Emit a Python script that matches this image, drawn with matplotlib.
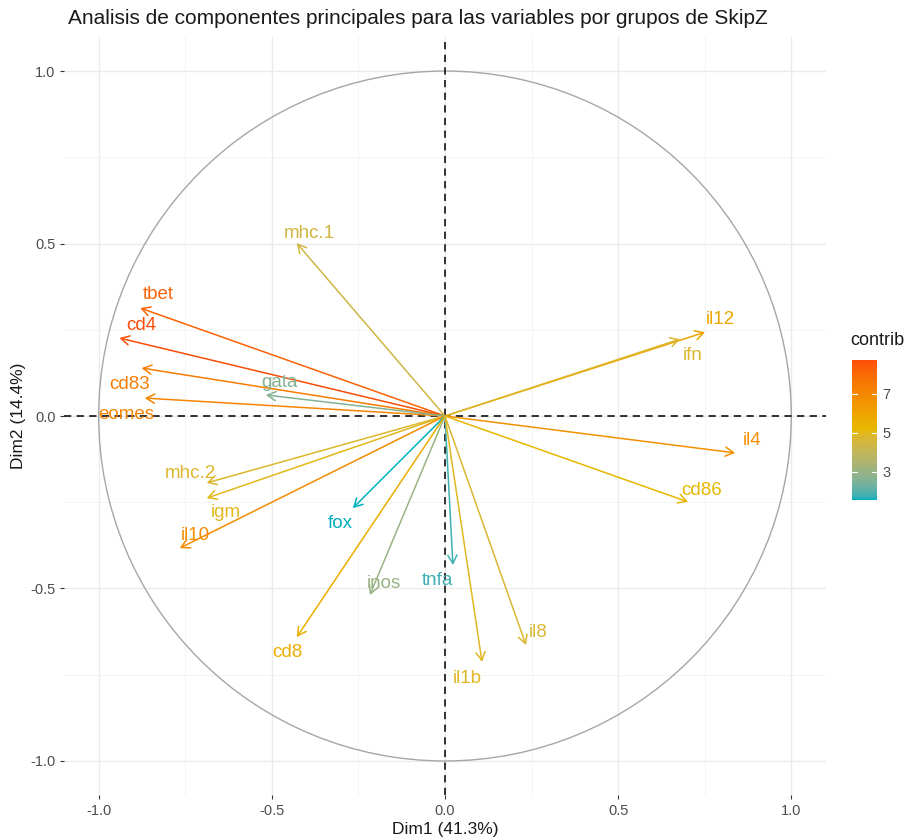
import numpy as np
import matplotlib
matplotlib.use("Agg")
import matplotlib.pyplot as plt
from matplotlib.colors import ListedColormap, Normalize, to_rgb
from matplotlib.patches import Circle

plt.rcParams['font.family'] = ['Liberation Sans', 'DejaVu Sans']

# variable coordinates on Dim1 / Dim2 and their contribution
variables = ['tbet', 'cd4', 'cd83', 'eomes', 'gata', 'mhc.1', 'il12', 'ifn', 'il4',
             'cd86', 'mhc.2', 'igm', 'il10', 'fox', 'inos', 'cd8', 'tnfa', 'il1b', 'il8']
dim1 = [-0.880, -0.940, -0.876, -0.867, -0.517, -0.428, 0.751, 0.679, 0.838,
        0.702, -0.688, -0.688, -0.766, -0.266, -0.217, -0.428, 0.023, 0.107, 0.234]
dim2 = [0.313, 0.226, 0.139, 0.052, 0.061, 0.501, 0.243, 0.223, -0.107,
        -0.249, -0.194, -0.238, -0.383, -0.267, -0.519, -0.641, -0.432, -0.713, -0.664]
contrib = [8.2, 8.75, 7.4, 7.1, 2.6, 4.4, 5.9, 4.8, 6.7,
           5.2, 4.8, 5.0, 6.9, 1.55, 3.0, 5.6, 1.8, 4.9, 4.7]

# label offsets from arrow tip, in points (layout only)
label_offsets = {
    'tbet': (13, 10), 'cd4': (16, 9), 'cd83': (-9, -12), 'eomes': (-13, -12),
    'gata': (10, 9), 'mhc.1': (9, 7), 'il12': (11, 9), 'ifn': (9, -12),
    'il4': (12, 9), 'cd86': (10, 8), 'mhc.2': (-12, 7), 'igm': (14, -10),
    'il10': (11, 9), 'fox': (-9, -11), 'inos': (10, 8), 'cd8': (-7, -11),
    'tnfa': (-11, -11), 'il1b': (-11, -12), 'il8': (9, 9),
}
gradient_cols = ['#00AFBB', '#E7B800', '#FC4E07']


# ggplot interpolates gradients in Lab space
def to_lab(rgb):
    c = np.array(rgb)
    c = np.where(c > 0.04045, ((c + 0.055) / 1.055) ** 2.4, c / 12.92)
    m = np.array([[0.4124, 0.3576, 0.1805], [0.2126, 0.7152, 0.0722], [0.0193, 0.1192, 0.9505]])
    xyz = m @ c / np.array([0.95047, 1.0, 1.08883])
    f = np.where(xyz > 0.008856, np.cbrt(xyz), 7.787 * xyz + 16 / 116)
    return np.array([116 * f[1] - 16, 500 * (f[0] - f[1]), 200 * (f[1] - f[2])])


def from_lab(lab):
    fy = (lab[0] + 16) / 116
    f = np.array([fy + lab[1] / 500, fy, fy - lab[2] / 200])
    xyz = np.where(f > 0.2069, f ** 3, (f - 16 / 116) / 7.787) * np.array([0.95047, 1.0, 1.08883])
    minv = np.array([[3.2406, -1.5372, -0.4986], [-0.9689, 1.8758, 0.0415], [0.0557, -0.2040, 1.0570]])
    c = minv @ xyz
    c = np.where(c > 0.0031308, 1.055 * np.clip(c, 0, None) ** (1 / 2.4) - 0.055, 12.92 * c)
    return np.clip(c, 0, 1)


labs = [to_lab(to_rgb(h)) for h in gradient_cols]
cols = []
for t in np.linspace(0, 1, 256):
    seg = min(int(t * 2), 1)
    u = t * 2 - seg
    cols.append(from_lab(labs[seg] * (1 - u) + labs[seg + 1] * u))
cmap = ListedColormap(cols)
norm = Normalize(vmin=min(contrib), vmax=max(contrib))

fig = plt.figure(figsize=(9.07, 8.40), dpi=100)
ax = fig.add_axes([0.0706, 0.053, 0.840, 0.9035])

ax.set_xlim(-1.1, 1.1)
ax.set_ylim(-1.1, 1.1)
ax.set_xticks([-1.0, -0.5, 0.0, 0.5, 1.0])
ax.set_yticks([-1.0, -0.5, 0.0, 0.5, 1.0])
ax.set_xticklabels(['-1.0', '-0.5', '0.0', '0.5', '1.0'])
ax.set_yticklabels(['-1.0', '-0.5', '0.0', '0.5', '1.0'])
ax.set_xticks([-0.75, -0.25, 0.25, 0.75], minor=True)
ax.set_yticks([-0.75, -0.25, 0.25, 0.75], minor=True)
ax.grid(True, which='major', color='#EBEBEB', linewidth=1.0)
ax.grid(True, which='minor', color='#F2F2F2', linewidth=0.6)
ax.tick_params(which='major', length=3, width=0.8, color='#333333',
               labelsize=10.5, labelcolor='#4D4D4D', pad=3)
ax.tick_params(which='minor', length=0)
for s in ax.spines.values():
    s.set_visible(False)
ax.set_axisbelow(True)

ax.add_patch(Circle((0, 0), 1.0, fill=False, edgecolor='#A6A6A6', linewidth=1.0, zorder=2))

for name, x, y, c in zip(variables, dim1, dim2, contrib):
    col = cmap(norm(c))
    ax.annotate('', xy=(x, y), xytext=(0, 0),
                arrowprops=dict(arrowstyle='->,head_length=0.6,head_width=0.33',
                                color=col, lw=1.1, shrinkA=0, shrinkB=0,
                                mutation_scale=10), zorder=3)
    dx, dy = label_offsets[name]
    ax.annotate(name, xy=(x, y), xytext=(dx, dy), textcoords='offset points',
                ha='center', va='center', fontsize=13.5, color=col, zorder=4)

ax.axhline(0, color='#222222', linestyle=(0, (4, 3)), linewidth=1.3, zorder=2.5)
ax.axvline(0, color='#222222', linestyle=(0, (4, 3)), linewidth=1.3, zorder=2.5)

ax.set_xlabel('Dim1 (41.3%)', fontsize=12.5, color='#1A1A1A', labelpad=3)
ax.set_ylabel('Dim2 (14.4%)', fontsize=12.5, color='#1A1A1A', labelpad=3)
ax.set_title('Analisis de componentes principales para las variables por grupos de SkipZ',
             fontsize=15, loc='left', color='#1A1A1A', pad=9, x=0.005)

# colourbar legend
cax = fig.add_axes([0.939, 0.405, 0.0276, 0.1667])
sm = matplotlib.cm.ScalarMappable(norm=norm, cmap=cmap)
cb = fig.colorbar(sm, cax=cax, ticks=[3, 5, 7])
cb.outline.set_visible(False)
cb.ax.tick_params(length=0, labelsize=10.5, labelcolor='#4D4D4D', pad=4)
for t in [3, 5, 7]:
    cax.plot([0, 0.2], [t, t], color='white', lw=0.8, transform=cax.get_yaxis_transform())
    cax.plot([0.8, 1.0], [t, t], color='white', lw=0.8, transform=cax.get_yaxis_transform())
fig.text(0.937, 0.585, 'contrib', fontsize=13, color='#1A1A1A', ha='left', va='bottom')

fig.savefig('out.png', dpi=100)
